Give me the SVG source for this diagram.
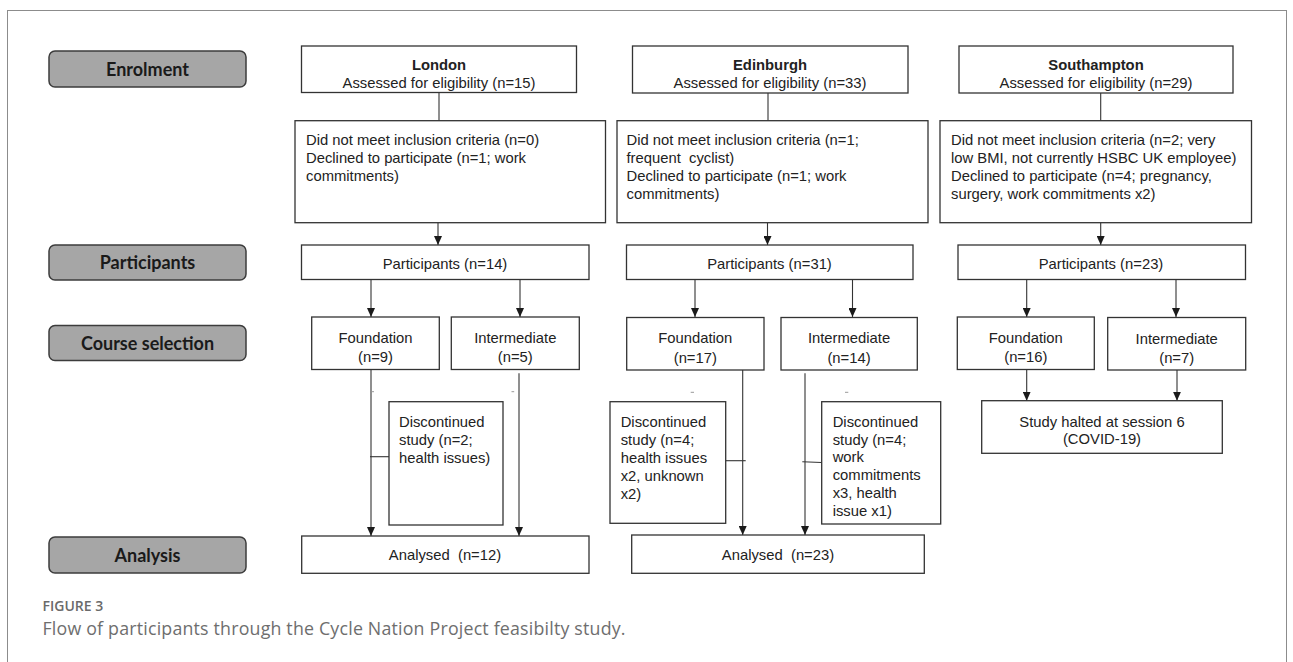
<svg xmlns="http://www.w3.org/2000/svg" width="1293" height="662" viewBox="0 0 1293 662">
<style>
.frame{fill:none;stroke:#8c8c8c;stroke-width:1}
.lab rect{fill:#a6a6a6;stroke:#3c3c3c;stroke-width:1.5}
.lab text{font-family:Lato,"Liberation Sans",sans-serif;font-weight:700;font-size:18px;fill:#1a1a1a;text-anchor:middle}
.box rect{fill:#fff;stroke:#333;stroke-width:1.3}
.box text{font-family:"Liberation Sans",Arial,sans-serif;font-size:14.8px;fill:#222}
.c{text-anchor:middle}
.b{font-weight:700}
.conn line{stroke:#333;stroke-width:1.1;fill:none}
.conn .dash{stroke:#999;stroke-width:1}
.cap1{font-family:"Open Sans",sans-serif;font-weight:600;font-size:14px;fill:#6a6a6a}
.cap2{font-family:"Open Sans",sans-serif;font-weight:400;font-size:17.8px;fill:#6e6e6e}
</style>
<defs>
<marker id="ah" markerUnits="userSpaceOnUse" markerWidth="9" markerHeight="8" refX="9" refY="4" orient="auto">
<path d="M0,0 L9,4 L0,8 z" fill="#1a1a1a"/>
</marker>
</defs>
<rect class="frame" x="7.5" y="10.5" width="1279" height="700"/>

<g id="label-enrolment" class="lab"><rect x="49" y="51" width="197" height="36" rx="6"/><text x="147.5" y="76">Enrolment</text></g>
<g id="label-participants" class="lab"><rect x="49" y="245" width="197" height="35" rx="6"/><text x="147.5" y="269">Participants</text></g>
<g id="label-course" class="lab"><rect x="49" y="325.5" width="197" height="35" rx="6"/><text x="147.5" y="349.5">Course selection</text></g>
<g id="label-analysis" class="lab"><rect x="49" y="537" width="197" height="36" rx="6"/><text x="147.5" y="561.5">Analysis</text></g>

<g id="connectors" class="conn">
<line x1="439" y1="92.5" x2="439" y2="120.7"/>
<line x1="768" y1="93" x2="768" y2="120.7"/>
<line x1="1100.7" y1="93" x2="1100.7" y2="120.7"/>
<line x1="438" y1="222.7" x2="438" y2="245" marker-end="url(#ah)"/>
<line x1="767.5" y1="222.7" x2="767.5" y2="245" marker-end="url(#ah)"/>
<line x1="1100.7" y1="222.7" x2="1100.7" y2="245" marker-end="url(#ah)"/>
<line x1="371" y1="279.5" x2="371" y2="317" marker-end="url(#ah)"/>
<line x1="520" y1="279.5" x2="520" y2="317" marker-end="url(#ah)"/>
<line x1="695" y1="279.5" x2="695" y2="317" marker-end="url(#ah)"/>
<line x1="852.5" y1="279.5" x2="852.5" y2="317" marker-end="url(#ah)"/>
<line x1="1026.7" y1="279.5" x2="1026.7" y2="317" marker-end="url(#ah)"/>
<line x1="1176" y1="279.5" x2="1176" y2="317" marker-end="url(#ah)"/>
<line x1="371" y1="369.5" x2="371" y2="536" marker-end="url(#ah)"/>
<line x1="519" y1="373.3" x2="519" y2="536" marker-end="url(#ah)"/>
<line x1="742.7" y1="369.5" x2="742.7" y2="535" marker-end="url(#ah)"/>
<line x1="805" y1="373.3" x2="805" y2="535" marker-end="url(#ah)"/>
<line x1="1026.7" y1="369.5" x2="1026.7" y2="400.7" marker-end="url(#ah)"/>
<line x1="1177" y1="369.5" x2="1177" y2="400.7" marker-end="url(#ah)"/>
<line x1="370" y1="456.7" x2="389" y2="456.7"/>
<line x1="725.7" y1="460.7" x2="745.7" y2="460.7"/>
<line x1="802.3" y1="461.7" x2="821.7" y2="462.5"/>
<line class="dash" x1="371.5" y1="391.7" x2="374" y2="391.7"/>
<line class="dash" x1="511.5" y1="391.7" x2="514.2" y2="391.7"/>
<line class="dash" x1="690.7" y1="392.3" x2="694" y2="392.3"/>
<line class="dash" x1="845" y1="392.3" x2="848.3" y2="392.3"/>
</g>

<g id="london-enrol" class="box"><rect x="301.5" y="46" width="275" height="46.5"/>
<text class="c b" x="439" y="70">London</text><text class="c" x="439" y="88">Assessed for eligibility (n=15)</text></g>
<g id="edinburgh-enrol" class="box"><rect x="632.5" y="46" width="275.5" height="47"/>
<text class="c b" x="770" y="70">Edinburgh</text><text class="c" x="770" y="88">Assessed for eligibility (n=33)</text></g>
<g id="southampton-enrol" class="box"><rect x="959" y="46" width="274" height="47"/>
<text class="c b" x="1096" y="70">Southampton</text><text class="c" x="1096" y="88">Assessed for eligibility (n=29)</text></g>

<g id="london-excluded" class="box"><rect x="295" y="120.7" width="310.5" height="102"/>
<text x="306" y="145">Did not meet inclusion criteria (n=0)</text>
<text x="306" y="163">Declined to participate (n=1; work</text>
<text x="306" y="181">commitments)</text></g>
<g id="edinburgh-excluded" class="box"><rect x="617" y="120.7" width="311" height="102"/>
<text x="626.5" y="145">Did not meet inclusion criteria (n=1;</text>
<text x="626.5" y="163" xml:space="preserve">frequent  cyclist)</text>
<text x="626.5" y="181">Declined to participate (n=1; work</text>
<text x="626.5" y="199">commitments)</text></g>
<g id="southampton-excluded" class="box"><rect x="940" y="120.7" width="311.5" height="102"/>
<text x="951" y="145">Did not meet inclusion criteria (n=2; very</text>
<text x="951" y="163">low BMI, not currently HSBC UK employee)</text>
<text x="951" y="181">Declined to participate (n=4; pregnancy,</text>
<text x="951" y="199">surgery, work commitments x2)</text></g>

<g id="london-participants" class="box"><rect x="301.5" y="245" width="287.5" height="34.5"/><text class="c" x="445" y="268.5">Participants (n=14)</text></g>
<g id="edinburgh-participants" class="box"><rect x="626.5" y="245" width="286.5" height="34.5"/><text class="c" x="769.5" y="268.5">Participants (n=31)</text></g>
<g id="southampton-participants" class="box"><rect x="958" y="245" width="287.5" height="34.5"/><text class="c" x="1101" y="268.5">Participants (n=23)</text></g>

<g id="london-foundation" class="box"><rect x="311.7" y="317" width="127.6" height="52.5"/><text class="c" x="375.5" y="342.5">Foundation</text><text class="c" x="375.5" y="362">(n=9)</text></g>
<g id="london-intermediate" class="box"><rect x="451.3" y="317" width="128" height="52.5"/><text class="c" x="515.3" y="342.5">Intermediate</text><text class="c" x="515.3" y="362">(n=5)</text></g>
<g id="edinburgh-foundation" class="box"><rect x="626.7" y="317.5" width="137.3" height="52.5"/><text class="c" x="695.3" y="343">Foundation</text><text class="c" x="695.3" y="362.5">(n=17)</text></g>
<g id="edinburgh-intermediate" class="box"><rect x="781" y="317.5" width="136.3" height="52.5"/><text class="c" x="849" y="343">Intermediate</text><text class="c" x="849" y="362.5">(n=14)</text></g>
<g id="southampton-foundation" class="box"><rect x="957.3" y="317" width="137" height="52.5"/><text class="c" x="1025.8" y="342.5">Foundation</text><text class="c" x="1025.8" y="362">(n=16)</text></g>
<g id="southampton-intermediate" class="box"><rect x="1107.7" y="317.5" width="138" height="52.5"/><text class="c" x="1176.7" y="343.5">Intermediate</text><text class="c" x="1176.7" y="362.5">(n=7)</text></g>

<g id="london-discontinued" class="box"><rect x="389" y="401.7" width="114" height="123.3"/>
<text x="399" y="427">Discontinued</text><text x="399" y="445">study (n=2;</text><text x="399" y="463">health issues)</text></g>
<g id="edinburgh-discontinued-f" class="box"><rect x="610" y="401.7" width="115.7" height="121.6"/>
<text x="620.7" y="427.3">Discontinued</text><text x="620.7" y="445">study (n=4;</text><text x="620.7" y="463">health issues</text><text x="620.7" y="481">x2, unknown</text><text x="620.7" y="499">x2)</text></g>
<g id="edinburgh-discontinued-i" class="box"><rect x="821.7" y="401.7" width="119" height="122.3"/>
<text x="832.7" y="426.7">Discontinued</text><text x="832.7" y="444.5">study (n=4;</text><text x="832.7" y="462.3">work</text><text x="832.7" y="480">commitments</text><text x="832.7" y="497.7">x3, health</text><text x="832.7" y="515.7">issue x1)</text></g>
<g id="southampton-halted" class="box"><rect x="981.7" y="400.7" width="240.6" height="52.6"/>
<text class="c" x="1102" y="426.7">Study halted at session 6</text><text class="c" x="1102" y="444.3">(COVID-19)</text></g>

<g id="london-analysed" class="box"><rect x="301.7" y="536" width="287.3" height="37.3"/><text class="c" x="445" y="560" xml:space="preserve">Analysed  (n=12)</text></g>
<g id="edinburgh-analysed" class="box"><rect x="631.7" y="535" width="292.6" height="38.3"/><text class="c" x="778" y="560" xml:space="preserve">Analysed  (n=23)</text></g>

<text class="cap1" x="42.5" y="611">FIGURE 3</text>
<text class="cap2" x="42.5" y="635" textLength="583" lengthAdjust="spacing">Flow of participants through the Cycle Nation Project feasibilty study.</text>
</svg>
